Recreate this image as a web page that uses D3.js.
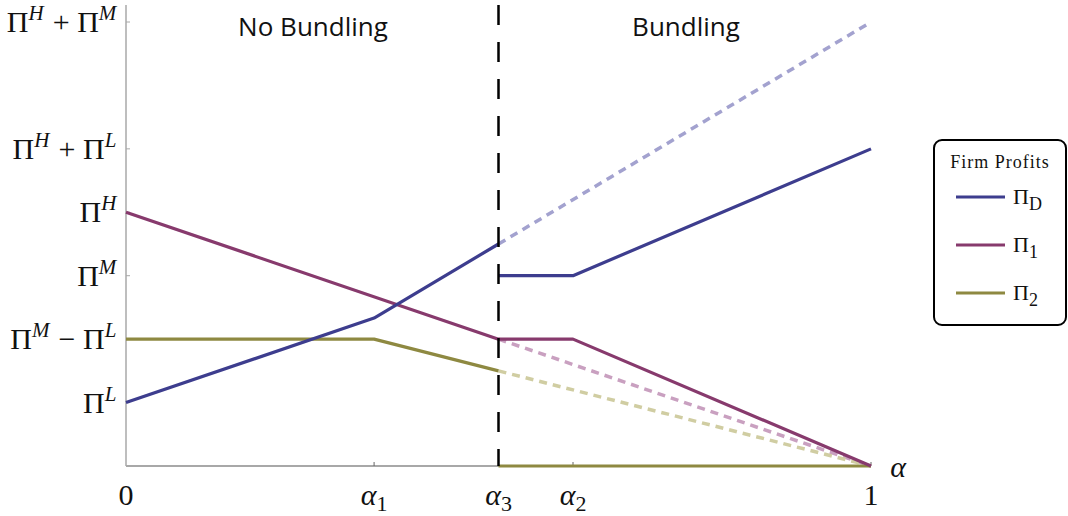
<!DOCTYPE html>
<html>
<head>
<meta charset="utf-8">
<script src="https://cdn.jsdelivr.net/npm/d3@7"></script>
<style>
  html, body { margin: 0; padding: 0; background: #fff; }
  svg { display: block; }
</style>
</head>
<body>
<svg id="chart" width="1068" height="516"></svg>
<script>
// Share of consumers (alpha) at the regime boundaries
const alpha1 = 0.333;
const alpha3 = 0.5;
const alpha2 = 0.6;

// Profit levels in units where Π^L = 1, Π^M = 3, Π^H = 4
const xTicks = [
  { v: 0, base: "0", sub: "" },
  { v: alpha1, base: "α", sub: "1" },
  { v: alpha3, base: "α", sub: "3" },
  { v: alpha2, base: "α", sub: "2" },
  { v: 1, base: "1", sub: "" }
];
const yTicks = [
  { v: 1, parts: [["Π", "L"]], sep: "" },
  { v: 2, parts: [["Π", "M"], ["Π", "L"]], sep: " − " },
  { v: 3, parts: [["Π", "M"]], sep: "" },
  { v: 4, parts: [["Π", "H"]], sep: "" },
  { v: 5, parts: [["Π", "H"], ["Π", "L"]], sep: " + " },
  { v: 7, parts: [["Π", "H"], ["Π", "M"]], sep: " + " }
];

// Dominant firm profit Π_D
const piDNoBundle = [[0, 1], [alpha1, 2.333], [alpha3, 3.5]];
const piDBundle = [[alpha3, 3], [alpha2, 3], [1, 5]];
const piDContinued = [[alpha3, 3.5], [1, 7]];
// Rival firm 1 profit Π_1
const pi1Solid = [[0, 4], [alpha3, 2], [alpha2, 2], [1, 0]];
const pi1Continued = [[alpha3, 2], [1, 0]];
// Rival firm 2 profit Π_2
const pi2NoBundle = [[0, 2], [alpha1, 2], [alpha3, 1.5]];
const pi2Bundle = [[alpha3, 0], [1, 0]];
const pi2Continued = [[alpha3, 1.5], [1, 0]];

const colors = { D: "#3d3d8e", one: "#873a6d", two: "#8e8941" };
const lightColors = { D: "#a3a2cf", one: "#c9a0c0", two: "#d0cda2" };

const legendItems = [
  { key: "D", sub: "D" },
  { key: "one", sub: "1" },
  { key: "two", sub: "2" }
];

const svg = d3.select("#chart");
const x = d3.scaleLinear().domain([0, 1]).range([126, 871]);
const y = d3.scaleLinear().domain([0, 7]).range([466, 22]);
const serif = "'Liberation Serif', 'DejaVu Serif', serif";

// Axes
const axisColor = "#a8a8a8";
svg.append("line").attr("x1", x(0)).attr("x2", x(0)).attr("y1", 5).attr("y2", y(0))
  .attr("stroke", axisColor).attr("stroke-width", 1.5);
svg.append("line").attr("x1", x(0)).attr("x2", x(1)).attr("y1", y(0)).attr("y2", y(0))
  .attr("stroke", axisColor).attr("stroke-width", 2);

// small inward ticks
svg.selectAll(".ytick").data(yTicks).join("line")
  .attr("x1", x(0)).attr("x2", x(0) + 4)
  .attr("y1", d => y(d.v)).attr("y2", d => y(d.v))
  .attr("stroke", axisColor).attr("stroke-width", 1);
svg.selectAll(".xtick").data(xTicks.filter(d => d.v > 0)).join("line")
  .attr("x1", d => x(d.v)).attr("x2", d => x(d.v))
  .attr("y1", y(0)).attr("y2", y(0) - 4)
  .attr("stroke", "#666").attr("stroke-width", 1);

// y tick labels
yTicks.forEach(t => {
  const txt = svg.append("text")
    .attr("x", 118).attr("y", y(t.v) + 10)
    .attr("text-anchor", "end")
    .attr("font-family", serif).attr("font-size", 30).attr("fill", "#111");
  t.parts.forEach((p, i) => {
    if (i > 0) txt.append("tspan").text(t.sep);
    txt.append("tspan").text(p[0]);
    txt.append("tspan").attr("font-style", "italic").attr("font-size", 21)
      .attr("dy", -12).text(p[1]);
    txt.append("tspan").attr("dy", 12).attr("font-size", 20).text("\u200A");
  });
});

// x tick labels
xTicks.forEach(t => {
  const txt = svg.append("text")
    .attr("x", x(t.v)).attr("y", 505)
    .attr("text-anchor", "middle")
    .attr("font-family", serif).attr("font-size", 30).attr("fill", "#111");
  txt.append("tspan").attr("font-style", t.sub ? "italic" : "normal").text(t.base);
  if (t.sub) txt.append("tspan").attr("font-size", 22).attr("dy", 6).text(t.sub);
});
svg.append("text").attr("x", 898).attr("y", 477).attr("text-anchor", "middle")
  .attr("font-family", serif).attr("font-style", "italic").attr("font-size", 30)
  .attr("fill", "#111").text("α");

// Regime headers
const sans = "'Open Sans', 'Noto Sans', sans-serif";
svg.append("text").attr("x", 313).attr("y", 36).attr("text-anchor", "middle")
  .attr("font-family", sans).attr("font-size", 26).attr("fill", "#111").text("No Bundling");
svg.append("text").attr("x", 686).attr("y", 36).attr("text-anchor", "middle")
  .attr("font-family", sans).attr("font-size", 26).attr("fill", "#111").text("Bundling");

const line = d3.line().x(d => x(d[0])).y(d => y(d[1]));

// Counterfactual (no-bundling) continuations, dashed and faded
[[piDContinued, "D"], [pi1Continued, "one"], [pi2Continued, "two"]].forEach(([data, k]) => {
  svg.append("path").datum(data).attr("d", line)
    .attr("fill", "none").attr("stroke", lightColors[k]).attr("stroke-width", 3.5)
    .attr("stroke-dasharray", "8,6");
});

// Equilibrium profits
[[pi2NoBundle, "two"], [pi2Bundle, "two"], [pi1Solid, "one"],
 [piDNoBundle, "D"], [piDBundle, "D"]].forEach(([data, k]) => {
  svg.append("path").datum(data).attr("d", line)
    .attr("fill", "none").attr("stroke", colors[k]).attr("stroke-width", 3.2)
    .attr("stroke-linejoin", "round");
});

// Bundling threshold
svg.append("line").attr("x1", x(alpha3)).attr("x2", x(alpha3))
  .attr("y1", 5).attr("y2", y(0))
  .attr("stroke", "#000").attr("stroke-width", 2.5).attr("stroke-dasharray", "20,17");

// Legend
const lg = svg.append("g");
lg.append("rect").attr("x", 934).attr("y", 140).attr("width", 132).attr("height", 185)
  .attr("rx", 8).attr("fill", "#fff").attr("stroke", "#000").attr("stroke-width", 2);
lg.append("text").attr("x", 1000).attr("y", 168).attr("text-anchor", "middle")
  .attr("font-family", serif).attr("font-size", 18).attr("letter-spacing", 1)
  .attr("fill", "#111").text("Firm Profits");
legendItems.forEach((it, i) => {
  const cy = 197 + i * 48;
  lg.append("line").attr("x1", 956).attr("x2", 1005).attr("y1", cy).attr("y2", cy)
    .attr("stroke", colors[it.key]).attr("stroke-width", 3.2);
  const t = lg.append("text").attr("x", 1013).attr("y", cy + 7)
    .attr("font-family", serif).attr("font-size", 22).attr("fill", "#111");
  t.append("tspan").text("Π");
  t.append("tspan").attr("font-size", 18).attr("dy", 6).text(it.sub);
});
</script>
</body>
</html>
